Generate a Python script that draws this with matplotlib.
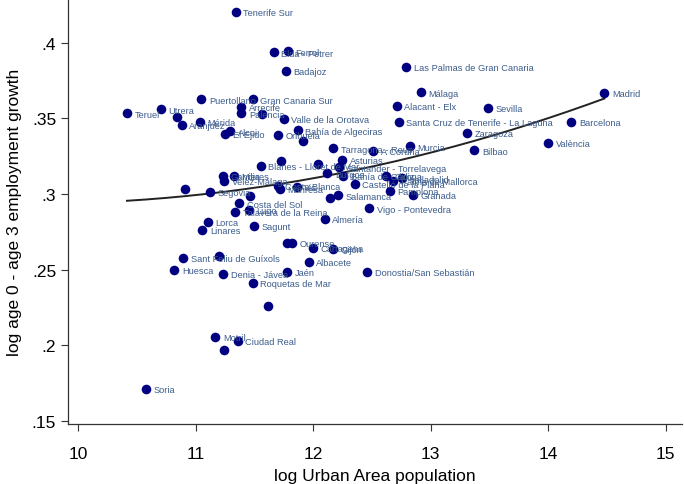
import numpy as np
import matplotlib
matplotlib.use('Agg')
import matplotlib.pyplot as plt

# urban areas: name, log population, log age0-age3 employment growth
names = ['Tenerife Sur', 'Elda - Petrer', 'Ferrol', 'Badajoz',
         'Las Palmas de Gran Canaria', 'Málaga', 'Madrid', 'Puertollano',
         'Gran Canaria Sur', 'Alacant - Elx', 'Arrecife', 'Sevilla', 'Utrera',
         'Teruel', 'Palencia', '', 'Valle de la Orotava', '', 'Mérida',
         'Santa Cruz de Tenerife - La Laguna', 'Barcelona', 'Aranjuez', 'Alcoi',
         'El Ejido', 'Orihuela', 'Bahía de Algeciras', 'Zaragoza', '',
         'València', 'Murcia', 'Tarragona - Reus', 'Bilbao', 'A Coruña',
         'Asturias', '', 'Blanes - Lloret de Mar', '', 'Santander - Torrelavega',
         'Burgos', 'Bahía de Cádiz', 'Girona', 'Valladolid', 'Palma de Mallorca',
         'Gandia', 'Mieres', 'Vélez-Málaga', 'Castelló de la Plana',
         'Costa Blanca', 'Manresa', 'Vic', '', 'Segovia', 'Pamplona', 'Granada',
         'Salamanca', '', '', 'Costa del Sol', 'Vigo - Pontevedra', 'Lugo',
         'Talavera de la Reina', 'Almería', 'Lorca', 'Sagunt', 'Linares',
         'Ourense', '', 'Cartagena', 'Gijón', 'Sant Feliu de Guíxols', '',
         'Albacete', 'Huesca', 'Jaén', 'Donostia/San Sebastián', 'Denia - Jávea',
         'Roquetas de Mar', '', 'Motril', 'Ciudad Real', '', 'Soria']

lnpop = [11.341, 11.664, 11.788, 11.771,
         12.795, 12.917, 14.479, 11.048,
         11.488, 12.713, 11.389, 13.486, 10.706,
         10.417, 11.389, 11.567, 11.749, 10.844, 11.037,
         12.730, 14.198, 10.882, 11.295,
         11.250, 11.703, 11.871, 13.308, 11.911,
         14.003, 12.823, 12.171, 13.373, 12.511,
         12.247, 11.729, 11.556, 12.043, 12.222,
         12.123, 12.256, 12.625, 12.761, 12.681,
         11.230, 11.327, 11.244, 12.355,
         11.698, 11.718, 11.860, 10.910, 11.125, 12.653, 12.851,
         12.213, 12.143, 11.460, 11.369, 12.477, 11.454,
         11.335, 12.100, 11.105, 11.499, 11.057,
         11.822, 11.780, 12.001, 12.171, 10.895, 11.199,
         11.962, 10.819, 11.780, 12.463, 11.236,
         11.486, 11.616, 11.168, 11.358, 11.239, 10.581]

growth = [0.4205, 0.3937, 0.3943, 0.3815,
          0.3840, 0.3672, 0.3670, 0.3626,
          0.3626, 0.3584, 0.3577, 0.3569, 0.3560,
          0.3534, 0.3534, 0.3529, 0.3498, 0.3507, 0.3478,
          0.3476, 0.3476, 0.3458, 0.3415,
          0.3397, 0.3392, 0.3421, 0.3406, 0.3353,
          0.3338, 0.3316, 0.3302, 0.3289, 0.3283,
          0.3227, 0.3219, 0.3188, 0.3199, 0.3177,
          0.3137, 0.3122, 0.3122, 0.3104, 0.3085,
          0.3118, 0.3118, 0.3085, 0.3067,
          0.3055, 0.3034, 0.3045, 0.3032, 0.3014, 0.3022, 0.2996,
          0.2992, 0.2972, 0.2987, 0.2939, 0.2906, 0.2897,
          0.2880, 0.2836, 0.2814, 0.2791, 0.2765,
          0.2677, 0.2677, 0.2642, 0.2637, 0.2578, 0.2593,
          0.2553, 0.2499, 0.2487, 0.2487, 0.2472,
          0.2411, 0.2261, 0.2058, 0.2032, 0.1970, 0.1711]

x = np.array(lnpop)
y = np.array(growth)

plt.rcParams['font.family'] = ['Liberation Sans', 'DejaVu Sans']

fig = plt.figure(figsize=(6.84, 4.85), dpi=100)
ax = fig.add_axes([68/684, 60/485, 614/684, 425/485])

ax.scatter(x, y, s=48, color='#000080', zorder=3, linewidths=0)
for n, xi, yi in zip(names, x, y):
    if n:
        ax.annotate(n, (xi, yi), xytext=(5.5, -0.5), textcoords='offset points',
                    fontsize=6.7, color='#3d5d8c', va='center', ha='left',
                    zorder=4)

# quadratic fit over the observed range
coef = np.polyfit(x, y, 2)
xs = np.linspace(x.min(), x.max(), 200)
ax.plot(xs, np.polyval(coef, xs), color='#222222', lw=1.4, zorder=2)

ax.set_xlim(9.915, 15.14)
ax.set_ylim(0.148, 0.429)
ax.set_xticks([10, 11, 12, 13, 14, 15])
ax.set_yticks([0.15, 0.2, 0.25, 0.3, 0.35, 0.4])
ax.set_yticklabels(['.15', '.2', '.25', '.3', '.35', '.4'])
ax.tick_params(direction='out', length=5, width=0.8, labelsize=12.5,
               color='#333333')
ax.tick_params(axis='x', pad=11)
for s in ['top', 'right']:
    ax.spines[s].set_visible(False)
for s in ['left', 'bottom']:
    ax.spines[s].set_color('#333333')
    ax.spines[s].set_linewidth(0.9)

ax.set_xlabel('log Urban Area population', fontsize=12.5, labelpad=5)
ax.set_ylabel('log age 0 - age 3 employment growth', fontsize=12.5, labelpad=7)

fig.savefig('out.png', dpi=100)
